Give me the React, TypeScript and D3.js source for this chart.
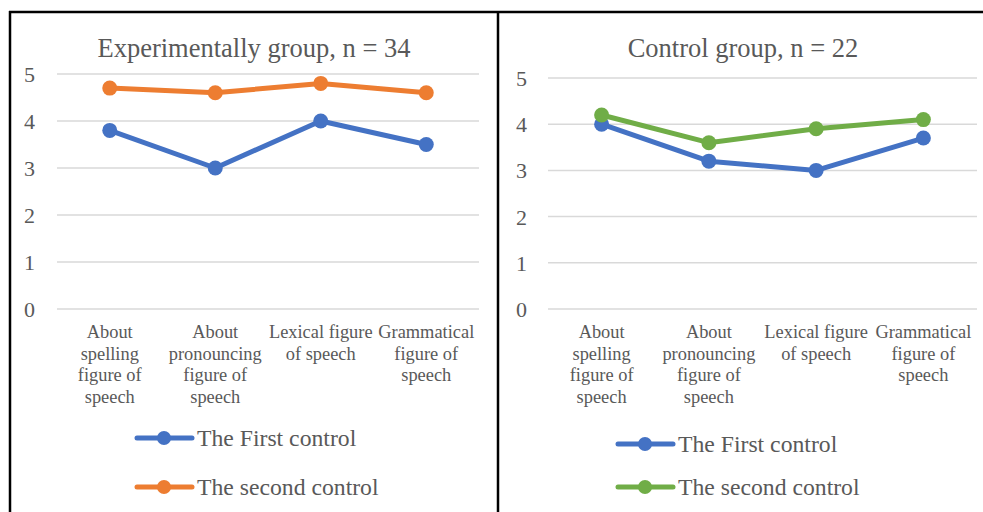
import * as d3 from "d3";

const categories = [
  "About spelling figure of speech",
  "About pronouncing figure of speech",
  "Lexical figure of speech",
  "Grammatical figure of speech",
];
const categoryLines = [
  ["About", "spelling", "figure of", "speech"],
  ["About", "pronouncing", "figure of", "speech"],
  ["Lexical figure", "of speech"],
  ["Grammatical", "figure of", "speech"],
];
const yTicks = [0, 1, 2, 3, 4, 5];

const seriesNames = ["The First control", "The second control"];
const expFirst = [3.8, 3.0, 4.0, 3.5];
const expSecond = [4.7, 4.6, 4.8, 4.6];
const ctrlFirst = [4.0, 3.2, 3.0, 3.7];
const ctrlSecond = [4.2, 3.6, 3.9, 4.1];

const FONT = "'Liberation Serif', 'Times New Roman', serif";
const TEXT = "#595959";

type Series = { name: string; values: number[]; color: string };

type PanelProps = {
  title: string;
  titleX: number;
  plot: { left: number; right: number; top: number; bottom: number };
  tickX: number;
  series: Series[];
  legend: { x: number; ys: number[] };
};

const Panel = ({ title, titleX, plot, tickX, series, legend }: PanelProps) => {
  const x = d3.scaleBand().domain(categories).range([plot.left, plot.right]);
  const y = d3.scaleLinear().domain([0, 5]).range([plot.bottom, plot.top]);
  const cx = (c: string) => (x(c) ?? 0) + x.bandwidth() / 2;

  const line = d3
    .line<number>()
    .x((_, i) => cx(categories[i]))
    .y((d) => y(d));

  return (
    <g fontFamily={FONT}>
      <text x={titleX} y={57} textAnchor="middle" fontSize={26.5} fill={TEXT}>
        {title}
      </text>
      {yTicks.map((t) => (
        <g key={t}>
          <line x1={plot.left} x2={plot.right} y1={y(t)} y2={y(t)} stroke="#d9d9d9" strokeWidth={1.5} />
          <text x={tickX} y={y(t) + 8} textAnchor="end" fontSize={22} fill={TEXT}>
            {t}
          </text>
        </g>
      ))}
      {categories.map((c, i) => (
        <text key={c} x={cx(c)} textAnchor="middle" fontSize={18.4} fill={TEXT}>
          {categoryLines[i].map((l, j) => (
            <tspan key={j} x={cx(c)} y={338 + j * 21.5}>
              {l}
            </tspan>
          ))}
        </text>
      ))}
      {series.map((s) => (
        <g key={s.name}>
          <path d={line(s.values) ?? ""} fill="none" stroke={s.color} strokeWidth={5} strokeLinejoin="round" />
          {s.values.map((v, i) => (
            <circle key={i} cx={cx(categories[i])} cy={y(v)} r={7.5} fill={s.color} />
          ))}
        </g>
      ))}
      {series.map((s, i) => (
        <g key={s.name} transform={`translate(${legend.x},${legend.ys[i]})`}>
          <line x1={0} x2={55} y1={0} y2={0} stroke={s.color} strokeWidth={5} strokeLinecap="round" />
          <circle cx={27} cy={0} r={7} fill={s.color} />
          <text x={60} y={8} fontSize={23.7} fill={TEXT}>
            {s.name}
          </text>
        </g>
      ))}
    </g>
  );
};

export default function App() {
  return (
    <svg
      width={983}
      height={512}
      style={{ position: "absolute", left: 0, top: 0, background: "#fff" }}
    >
      <rect width={983} height={512} fill="#fff" />
      <Panel
        title="Experimentally group, n = 34"
        titleX={254}
        plot={{ left: 57, right: 479, top: 74, bottom: 309 }}
        tickX={35}
        series={[
          { name: seriesNames[0], values: expFirst, color: "#4472c4" },
          { name: seriesNames[1], values: expSecond, color: "#ed7d31" },
        ]}
        legend={{ x: 137, ys: [438, 487] }}
      />
      <Panel
        title="Control group, n = 22"
        titleX={743}
        plot={{ left: 548, right: 977, top: 78, bottom: 309 }}
        tickX={527}
        series={[
          { name: seriesNames[0], values: ctrlFirst, color: "#4472c4" },
          { name: seriesNames[1], values: ctrlSecond, color: "#70ad47" },
        ]}
        legend={{ x: 618, ys: [444, 487] }}
      />
      <g stroke="#000" strokeWidth={2.5}>
        <line x1={9} x2={983} y1={12} y2={12} />
        <line x1={10} x2={10} y1={11} y2={512} />
        <line x1={498} x2={498} y1={11} y2={512} />
      </g>
    </svg>
  );
}
